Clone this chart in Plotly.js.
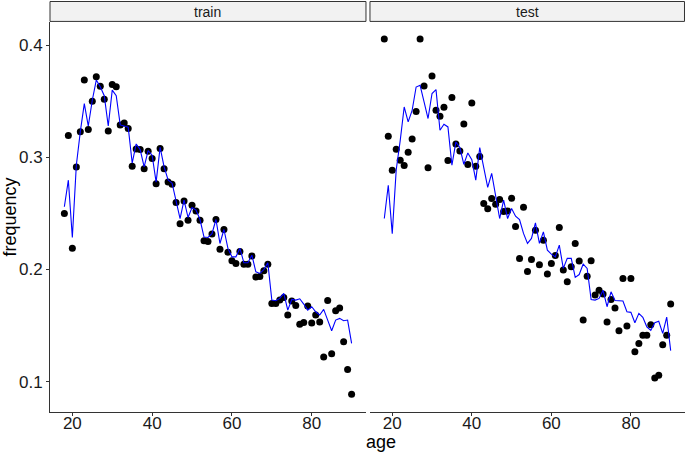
<!DOCTYPE html>
<html>
<head>
<meta charset="utf-8">
<script src="https://cdn.plot.ly/plotly-3.0.1.min.js"></script>
<style>html,body{margin:0;padding:0;background:#fff;}#chart{width:685px;height:454px;}</style>
</head>
<body>
<div id="chart"></div>
<script>
const ages = [18,19,20,21,22,23,24,25,26,27,28,29,30,31,32,33,34,35,36,37,38,39,40,41,42,43,44,45,46,47,48,49,50,51,52,53,54,55,56,57,58,59,60,61,62,63,64,65,66,67,68,69,70,71,72,73,74,75,76,77,78,79,80,81,82,83,84,85,86,87,88,89,90];

const trainFreq = [0.250,0.3195,0.219,0.2915,0.323,0.369,0.325,0.350,0.372,0.3635,0.352,0.3236,0.365,0.363,0.329,0.3308,0.3257,0.2922,0.3076,0.307,0.290,0.3055,0.299,0.2764,0.308,0.290,0.278,0.276,0.2598,0.2408,0.2612,0.244,0.2574,0.2523,0.244,0.2256,0.225,0.2316,0.2446,0.218,0.2357,0.2155,0.2078,0.2054,0.2160,0.2047,0.2048,0.212,0.1933,0.1938,0.1989,0.2048,0.1696,0.1696,0.1727,0.1751,0.1594,0.172,0.168,0.1512,0.1528,0.1674,0.1522,0.1594,0.1532,0.1219,0.1723,0.1249,0.1632,0.1656,0.1356,0.1109,0.0887];

const trainFit = [0.256,0.2797,0.2286,0.293,0.323,0.348,0.328,0.351,0.369,0.363,0.355,0.328,0.360,0.355,0.329,0.328,0.327,0.295,0.312,0.307,0.2915,0.306,0.302,0.278,0.309,0.2915,0.280,0.277,0.260,0.2455,0.262,0.2464,0.2553,0.253,0.2446,0.229,0.2286,0.232,0.2446,0.2232,0.2357,0.2188,0.2113,0.2113,0.219,0.206,0.206,0.2128,0.198,0.1965,0.200,0.206,0.1727,0.1722,0.1742,0.1787,0.1638,0.1733,0.1727,0.1739,0.1692,0.1638,0.1668,0.1623,0.1594,0.1644,0.1549,0.1454,0.1549,0.1564,0.1543,0.1549,0.1341];

const testFreq = [0.4056,0.3189,0.2886,0.3073,0.2975,0.2928,0.3046,0.3165,0.3409,0.4056,0.3637,0.2907,0.3727,0.342,0.3367,0.3447,0.2972,0.3534,0.312,0.3058,0.3299,0.2937,0.3486,0.2922,0.3008,0.2589,0.2541,0.2634,0.2583,0.2625,0.2518,0.2523,0.2636,0.2384,0.2099,0.2556,0.1983,0.209,0.2351,0.2042,0.2262,0.1959,0.2054,0.2126,0.2375,0.1995,0.189,0.2024,0.2233,0.2077,0.1549,0.1941,0.2078,0.1772,0.1816,0.1781,0.1531,0.1733,0.1656,0.1454,0.1921,0.1496,0.1921,0.1267,0.1341,0.1413,0.1413,0.1507,0.1032,0.1056,0.1329,0.1413,0.1692];

const testFit = [0.2455,0.2752,0.232,0.289,0.315,0.345,0.3317,0.342,0.3628,0.3643,0.3495,0.3347,0.357,0.3605,0.3242,0.3296,0.3272,0.293,0.3138,0.3088,0.2939,0.304,0.298,0.2797,0.3088,0.2892,0.2732,0.2857,0.2648,0.2455,0.2619,0.2455,0.2544,0.2476,0.2446,0.2322,0.2233,0.2277,0.2416,0.2233,0.2336,0.2173,0.2137,0.2113,0.2217,0.201,0.2099,0.2099,0.193,0.1955,0.2048,0.201,0.1733,0.1727,0.1742,0.1815,0.1668,0.1801,0.1724,0.1721,0.1719,0.1623,0.1618,0.1525,0.1609,0.1573,0.1489,0.1457,0.1525,0.1538,0.143,0.1576,0.1276];

const panelNames = ["train", "test"];
const xTicks = [20, 40, 60, 80];
const yTicks = [0.1, 0.2, 0.3, 0.4];

const FONT = "Liberation Sans, Arial, sans-serif";
const pointStyle = {color: "#000000", size: 7};
const lineStyle = {color: "#0000FF", width: 1.1};

const traces = [
  {x: ages, y: trainFreq, type: "scatter", mode: "markers", marker: pointStyle, xaxis: "x", yaxis: "y", hoverinfo: "skip"},
  {x: ages, y: trainFit, type: "scatter", mode: "lines", line: lineStyle, xaxis: "x", yaxis: "y", hoverinfo: "skip"},
  {x: ages, y: testFreq, type: "scatter", mode: "markers", marker: pointStyle, xaxis: "x2", yaxis: "y2", hoverinfo: "skip"},
  {x: ages, y: testFit, type: "scatter", mode: "lines", line: lineStyle, xaxis: "x2", yaxis: "y2", hoverinfo: "skip"}
];

const xRange = [14.4, 93.6];
const yRange = [0.0729, 0.4208];
const d1 = [0, 0.4976];
const d2 = [0.5039, 1];
const stripTop = 1 + 20.5 / 390;

const xBase = {
  range: xRange, tickvals: xTicks, ticks: "outside", ticklen: 3, tickcolor: "#333333",
  showline: true, linecolor: "#333333", linewidth: 1, showgrid: false, zeroline: false,
  ticklabelstandoff: -7,
  tickfont: {family: FONT, size: 17, color: "#1a1a1a"}, fixedrange: true
};

const layout = {
  width: 685, height: 454,
  margin: {l: 50, r: 0, t: 22, b: 42},
  paper_bgcolor: "#ffffff", plot_bgcolor: "#ffffff",
  showlegend: false,
  font: {family: FONT},
  xaxis: Object.assign({}, xBase, {domain: d1, anchor: "y"}),
  xaxis2: Object.assign({}, xBase, {domain: d2, anchor: "y2"}),
  yaxis: {
    range: yRange, tickvals: yTicks, ticktext: ["0.1","0.2","0.3","0.4"], ticks: "outside", ticklen: 3, tickcolor: "#333333",
    showline: true, linecolor: "#333333", linewidth: 1, showgrid: false, zeroline: false,
    tickfont: {family: FONT, size: 17, color: "#1a1a1a"}, anchor: "x",
    title: {text: "frequency", font: {family: FONT, size: 18, color: "#000000"}, standoff: 6}
  },
  yaxis2: {
    range: yRange, matches: "y", anchor: "x2", showticklabels: false, ticks: "",
    showline: false, showgrid: false, zeroline: false
  },
  shapes: [
    {type: "rect", xref: "paper", yref: "paper", x0: d1[0], x1: d1[1], y0: 1.0015, y1: stripTop,
     fillcolor: "#F2F2F2", line: {color: "#333333", width: 1}, layer: "below"},
    {type: "rect", xref: "paper", yref: "paper", x0: d2[0], x1: d2[1] - 0.0008, y0: 1.0015, y1: stripTop,
     fillcolor: "#F2F2F2", line: {color: "#333333", width: 1}, layer: "below"}
  ],
  annotations: [
    {text: panelNames[0], xref: "paper", yref: "paper", x: (d1[0] + d1[1]) / 2, y: (1 + stripTop) / 2,
     xanchor: "center", yanchor: "middle", showarrow: false, font: {family: FONT, size: 14, color: "#1a1a1a"}},
    {text: panelNames[1], xref: "paper", yref: "paper", x: (d2[0] + d2[1]) / 2, y: (1 + stripTop) / 2,
     xanchor: "center", yanchor: "middle", showarrow: false, font: {family: FONT, size: 14, color: "#1a1a1a"}},
    {text: "age", xref: "paper", yref: "paper", x: 0.522, y: -0.078, xanchor: "center", yanchor: "middle",
     showarrow: false, font: {family: FONT, size: 18, color: "#000000"}}
  ]
};

Plotly.newPlot("chart", traces, layout, {displayModeBar: false, staticPlot: true});
</script>
</body>
</html>
